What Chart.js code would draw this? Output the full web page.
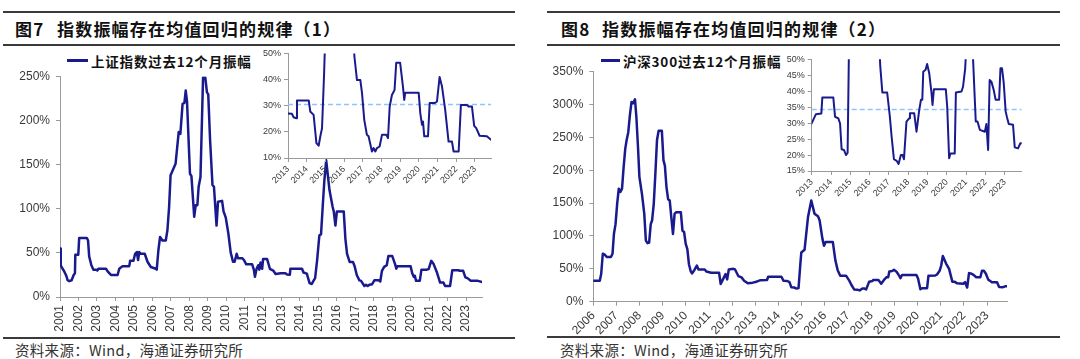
<!DOCTYPE html>
<html>
<head>
<meta charset="utf-8">
<script src="https://cdn.jsdelivr.net/npm/chart.js@4.4.1/dist/chart.umd.min.js"></script>
<style>
  html, body { margin:0; padding:0; background:#fff; }
  body { width:1080px; height:359px; position:relative; overflow:hidden; font-family:"Noto Sans CJK SC","Liberation Sans",sans-serif; }
  .rule { position:absolute; background:#3a3a3a; }
  .title { position:absolute; font-family:"Noto Sans CJK SC",sans-serif; font-weight:bold; font-size:17px; color:#111; letter-spacing:1.2px; line-height:20px; white-space:nowrap; }
  .legend { position:absolute; font-family:"Noto Sans CJK SC",sans-serif; font-weight:bold; font-size:13.5px; color:#111; letter-spacing:0.8px; line-height:18px; white-space:nowrap; }
  .legline { position:absolute; height:3px; background:#1a1a8f; }
  .src { position:absolute; font-family:"Noto Sans CJK SC",sans-serif; font-size:14.5px; color:#333; line-height:18px; white-space:nowrap; letter-spacing:0.3px; }
  .cv { position:absolute; }
</style>
</head>
<body>
<div class="rule" style="left:3px;top:11px;width:512px;height:2px"></div>
<div class="rule" style="left:3px;top:44px;width:512px;height:1.5px"></div>
<div class="rule" style="left:3px;top:337px;width:512px;height:1.5px"></div>
<div class="rule" style="left:547px;top:11px;width:513px;height:2px"></div>
<div class="rule" style="left:547px;top:44px;width:513px;height:1.5px"></div>
<div class="rule" style="left:547px;top:336px;width:513px;height:1.5px"></div>

<div class="title" style="left:15px;top:19px">图7</div>
<div class="title" style="left:57px;top:19px">指数振幅存在均值回归的规律（1）</div>
<div class="title" style="left:561px;top:19px">图8</div>
<div class="title" style="left:602px;top:19px">指数振幅存在均值回归的规律（2）</div>

<div class="legline" style="left:67px;top:59px;width:21px"></div>
<div class="legend" style="left:91px;top:52px">上证指数过去12个月振幅</div>
<div class="legline" style="left:601px;top:59px;width:19px"></div>
<div class="legend" style="left:623px;top:52px">沪深300过去12个月振幅</div>

<div class="src" style="left:15px;top:341px">资料来源：Wind，海通证券研究所</div>
<div class="src" style="left:560px;top:341px">资料来源：Wind，海通证券研究所</div>

<canvas id="leftMain" class="cv" width="540" height="290" style="left:0px;top:50px"></canvas>
<canvas id="rightMain" class="cv" width="530" height="290" style="left:545px;top:50px"></canvas>
<canvas id="leftInset" class="cv" width="250" height="145" style="left:255px;top:45px"></canvas>
<canvas id="rightInset" class="cv" width="260" height="150" style="left:775px;top:50px"></canvas>

<script>
// ---------- DATA ----------
const leftSeriesName = '上证指数过去12个月振幅';
const rightSeriesName = '沪深300过去12个月振幅';

const leftDates = [
  2001.00,2001.04,2001.14,2001.23,2001.32,2001.36,2001.41,2001.50,2001.63,2001.74,2001.81,2001.83,2001.99,
  2002.04,2002.45,2002.52,2002.58,2002.70,2002.81,2002.94,2003.02,2003.08,2003.49,2003.58,2003.76,
  2004.12,2004.21,2004.39,2004.75,2004.80,2004.98,2005.07,2005.16,2005.23,2005.29,2005.38,2005.59,2005.74,2005.92,
  2006.19,2006.24,2006.33,2006.42,2006.55,2006.73,2006.82,2006.91,2006.99,2007.26,2007.43,2007.52,2007.64,2007.74,2007.81,2007.88,
  2008.04,2008.12,2008.27,2008.35,2008.44,2008.51,2008.61,2008.75,2008.87,2008.96,2009.03,2009.13,2009.26,2009.34,2009.48,2009.56,2009.78,2009.86,2009.98,
  2010.12,2010.25,2010.30,2010.37,2010.46,2010.57,2010.64,2010.88,2010.96,2011.09,2011.41,2011.50,2011.56,2011.65,2011.74,2011.80,2011.86,2011.95,
  2012.00,2012.22,2012.37,2012.55,2012.68,2012.95,2013.21,2013.30,2013.45,2013.48,2014.11,2014.19,2014.37,2014.52,2014.64,2014.73,2014.82,2014.93,
  2015.05,2015.14,2015.23,2015.32,2015.42,2015.60,2015.77,2015.83,2015.92,2016.00,2016.37,2016.46,2016.55,2016.69,2016.87,2016.96,
  2017.08,2017.22,2017.31,2017.49,2017.58,2017.67,2017.76,2017.90,2018.03,2018.26,2018.35,2018.44,2018.56,2018.70,2018.79,
  2019.00,2019.15,2019.22,2019.27,2019.99,2020.08,2020.17,2020.22,2020.29,2020.49,2020.58,2020.84,2020.97,
  2021.11,2021.24,2021.41,2021.59,2021.77,2021.86,2022.13,2022.25,2022.57,2022.66,2022.84,2022.96,2023.07,2023.25,2023.64,2023.86
];
const leftValues = [
  55,36,32,29,25,23,19,18,19,25,27,48,48,
  67,67,64,46,36,31,31,30,32,32,29,25,
  25,32,35,35,41,41,49,51,42,51,49,49,40,34,
  32,31,53,68,64,64,76,102,138,151,187,185,219,220,234,222,
  140,137,91,104,104,125,136,249,249,232,230,178,127,125,81,108,109,97,90,
  72,50,46,40,40,49,44,44,42,37,37,31,23,32,36,31,39,32,
  43,43,32,30,26,27,26.9,25.6,25.2,32,32,27.8,26.5,15.7,14.7,18.3,21.4,42,
  70,71,102,132,155,121,102,97,81,97,97,66,49,39.8,39.8,34.8,
  24.6,18.9,18.3,12.5,13.8,12.5,13.8,14.4,18.9,18.9,17.6,29.7,34.1,36,46.4,
  46.4,37.3,32.2,35,35,27,22.7,24,18.3,18.3,31,31,31.6,
  41,37.3,28.4,16.3,16.3,12.5,12.5,30.3,30.3,29.7,29.7,22.3,21.4,18.5,18.3,17
];

const rightDates = [
  2006.00,2006.28,2006.34,2006.41,2006.48,2006.59,2006.76,2006.83,2006.89,2006.96,
  2007.03,2007.10,2007.17,2007.24,2007.31,2007.38,2007.44,2007.51,2007.58,2007.65,2007.72,2007.80,2007.86,2007.93,2007.99,
  2008.10,2008.20,2008.27,2008.34,2008.41,2008.48,2008.54,2008.61,2008.68,2008.75,2008.82,2008.96,
  2009.03,2009.09,2009.16,2009.23,2009.30,2009.37,2009.44,2009.51,2009.58,2009.78,2009.85,2009.92,2009.99,
  2010.06,2010.13,2010.20,2010.26,2010.36,2010.47,2010.54,2010.81,2010.88,2011.09,2011.43,2011.50,2011.57,2011.64,2011.71,2011.78,2011.85,
  2012.05,2012.12,2012.26,2012.40,2012.51,2012.67,2012.88,2013.00,2013.08,2013.22,2013.50,2013.55,2014.12,2014.21,2014.38,2014.47,2014.55,2014.67,2014.78,2014.86,2014.94,2014.98,
  2015.12,2015.27,2015.41,2015.55,2015.70,2015.77,2015.89,2015.96,2016.03,2016.34,2016.45,2016.55,2016.66,2016.91,
  2017.05,2017.14,2017.26,2017.40,2017.50,2017.62,2017.71,2017.78,2017.91,2018.05,2018.09,2018.31,2018.43,2018.57,2018.66,2018.73,2018.78,2018.90,2018.98,
  2019.09,2019.21,2019.26,2019.33,2019.95,2020.02,2020.12,2020.19,2020.41,2020.47,2020.76,2020.84,2020.95,
  2021.02,2021.09,2021.23,2021.36,2021.50,2021.59,2021.71,2021.97,2022.05,2022.14,2022.22,2022.31,2022.43,2022.53,2022.71,2022.78,2022.86,2022.95,
  2023.05,2023.12,2023.21,2023.43,2023.52,2023.69,2023.81,2023.88
];
const rightValues = [
  32,32,42,73,72,68,68,73,103,118,
  149,172,167,172,205,233,246,258,284,304,302,308,281,235,190,
  164,134,93,89,90,118,124,149,195,246,260,260,
  215,207,174,156,154,128,103,134,136,136,108,106,88,
  80,57,47,43,48,55,49,49,46,44,44,27,32,37,42,34,49,
  50,49,39,37,32,28,29,30,31,32.8,33,38,38,32,31.5,29.9,21.8,21.6,20,20.7,58,75,
  79,129,154,134,130,124,96,85,91,91,63,48,39.6,39.6,
  32,25.8,18.7,18.2,17.2,20,20,18.7,30.5,31.5,33.1,33.1,27.3,34.1,37.3,37.3,46.1,46.7,48.5,
  45.6,39.3,35.7,40.6,40.6,35.2,19,20.5,20.5,39.6,39.9,41.4,47,
  55,69.5,58,50,30.5,30.5,27.9,27.3,29.7,21.6,43.5,43,40.4,37.3,37.3,47.2,47.2,42.5,
  33.6,31.8,29.7,29.5,22.4,22.1,23.7,23.7
];

// mean levels shown as dashed lines in the insets
const leftMean = [30.5];
const rightMean = [34.3];

// tick labels
const leftYearTicks = [2001,2002,2003,2004,2005,2006,2007,2008,2009,2010,2011,2012,2013,2014,2015,2016,2017,2018,2019,2020,2021,2022,2023];
const rightYearTicks = [2006,2007,2008,2009,2010,2011,2012,2013,2014,2015,2016,2017,2018,2019,2020,2021,2022,2023];
const insetYearTicks = [2013,2014,2015,2016,2017,2018,2019,2020,2021,2022,2023];

// ---------- DRAW ----------
const LINE = '#1a1a8f';
const MEAN = '#8cc4ff';
const AXIS = '#9a9a9a';
const TXT = '#3a3a3a';
const NUMFONT = '"Liberation Sans", Arial, sans-serif';

function pts(d, v) { return d.map((x, i) => ({ x: x, y: v[i] })); }

function makeChart(id, o) {
  const datasets = [{
    data: pts(o.dates, o.values),
    borderColor: LINE, borderWidth: o.lw, pointRadius: 0, tension: 0,
    borderJoinStyle: 'round', borderCapStyle: 'round', fill: false
  }];
  if (o.mean) {
    const d0 = o.xmin, d1 = o.dates[o.dates.length - 1];
    datasets.push({
      data: [{ x: d0, y: o.mean[0] }, { x: d1, y: o.mean[0] }],
      borderColor: MEAN, borderWidth: 1.5, borderDash: [5, 3], pointRadius: 0, fill: false
    });
  }
  return new Chart(document.getElementById(id), {
    type: 'line',
    data: { datasets: datasets },
    options: {
      responsive: false, animation: false, devicePixelRatio: 1,
      layout: { padding: { top: o.pt, right: o.pr, bottom: 0, left: 0 } },
      plugins: { legend: { display: false }, tooltip: { enabled: false } },
      scales: {
        x: {
          type: 'linear', min: o.xmin, max: o.xmax,
          afterBuildTicks: s => { s.ticks = o.xticks.map(v => ({ value: v })); },
          afterFit: s => { s.height = o.xh; },
          grid: { drawOnChartArea: false, drawTicks: true, tickLength: 4, color: AXIS },
          border: { color: AXIS, width: 1 },
          ticks: { autoSkip: false, minRotation: o.rot, maxRotation: o.rot, padding: o.xpad,
                   font: { family: NUMFONT, size: o.fs }, color: TXT, callback: v => String(v) }
        },
        y: {
          min: o.ymin, max: o.ymax,
          afterFit: s => { s.width = o.yw; },
          grid: { drawOnChartArea: false, drawTicks: true, tickLength: 4, color: AXIS },
          border: { color: AXIS, width: 1 },
          ticks: { stepSize: o.ystep, padding: o.ypad, font: { family: NUMFONT, size: o.fs }, color: TXT,
                   callback: v => v + '%' }
        }
      }
    }
  });
}

makeChart('leftMain', {
  dates: leftDates, values: leftValues, lw: 2.5,
  xmin: 2001, xmax: 2023.86, xticks: leftYearTicks, rot: 90, xh: 43, xpad: 4,
  ymin: 0, ymax: 250, ystep: 50, yw: 60, ypad: 6, fs: 12,
  pt: 26.5, pr: 58
});
makeChart('rightMain', {
  dates: rightDates, values: rightValues, lw: 2.5,
  xmin: 2006, xmax: 2023.86, xticks: rightYearTicks, rot: 45, xh: 38.3, xpad: 3,
  ymin: 0, ymax: 350, ystep: 50, yw: 48.3, ypad: 6, fs: 12,
  pt: 21.7, pr: 68
});
makeChart('leftInset', {
  dates: leftDates, values: leftValues, lw: 2, mean: leftMean,
  xmin: 2013, xmax: 2023.86, xticks: insetYearTicks, rot: 45, xh: 32, xpad: 2,
  ymin: 10, ymax: 50, ystep: 10, yw: 33, ypad: 3, fs: 9,
  pt: 8, pr: 14
});
makeChart('rightInset', {
  dates: rightDates, values: rightValues, lw: 2, mean: rightMean,
  xmin: 2013, xmax: 2023.88, xticks: insetYearTicks, rot: 45, xh: 29, xpad: 2,
  ymin: 15, ymax: 50, ystep: 5, yw: 36.7, ypad: 3, fs: 9,
  pt: 9.3, pr: 13.3
});
</script>
</body>
</html>
